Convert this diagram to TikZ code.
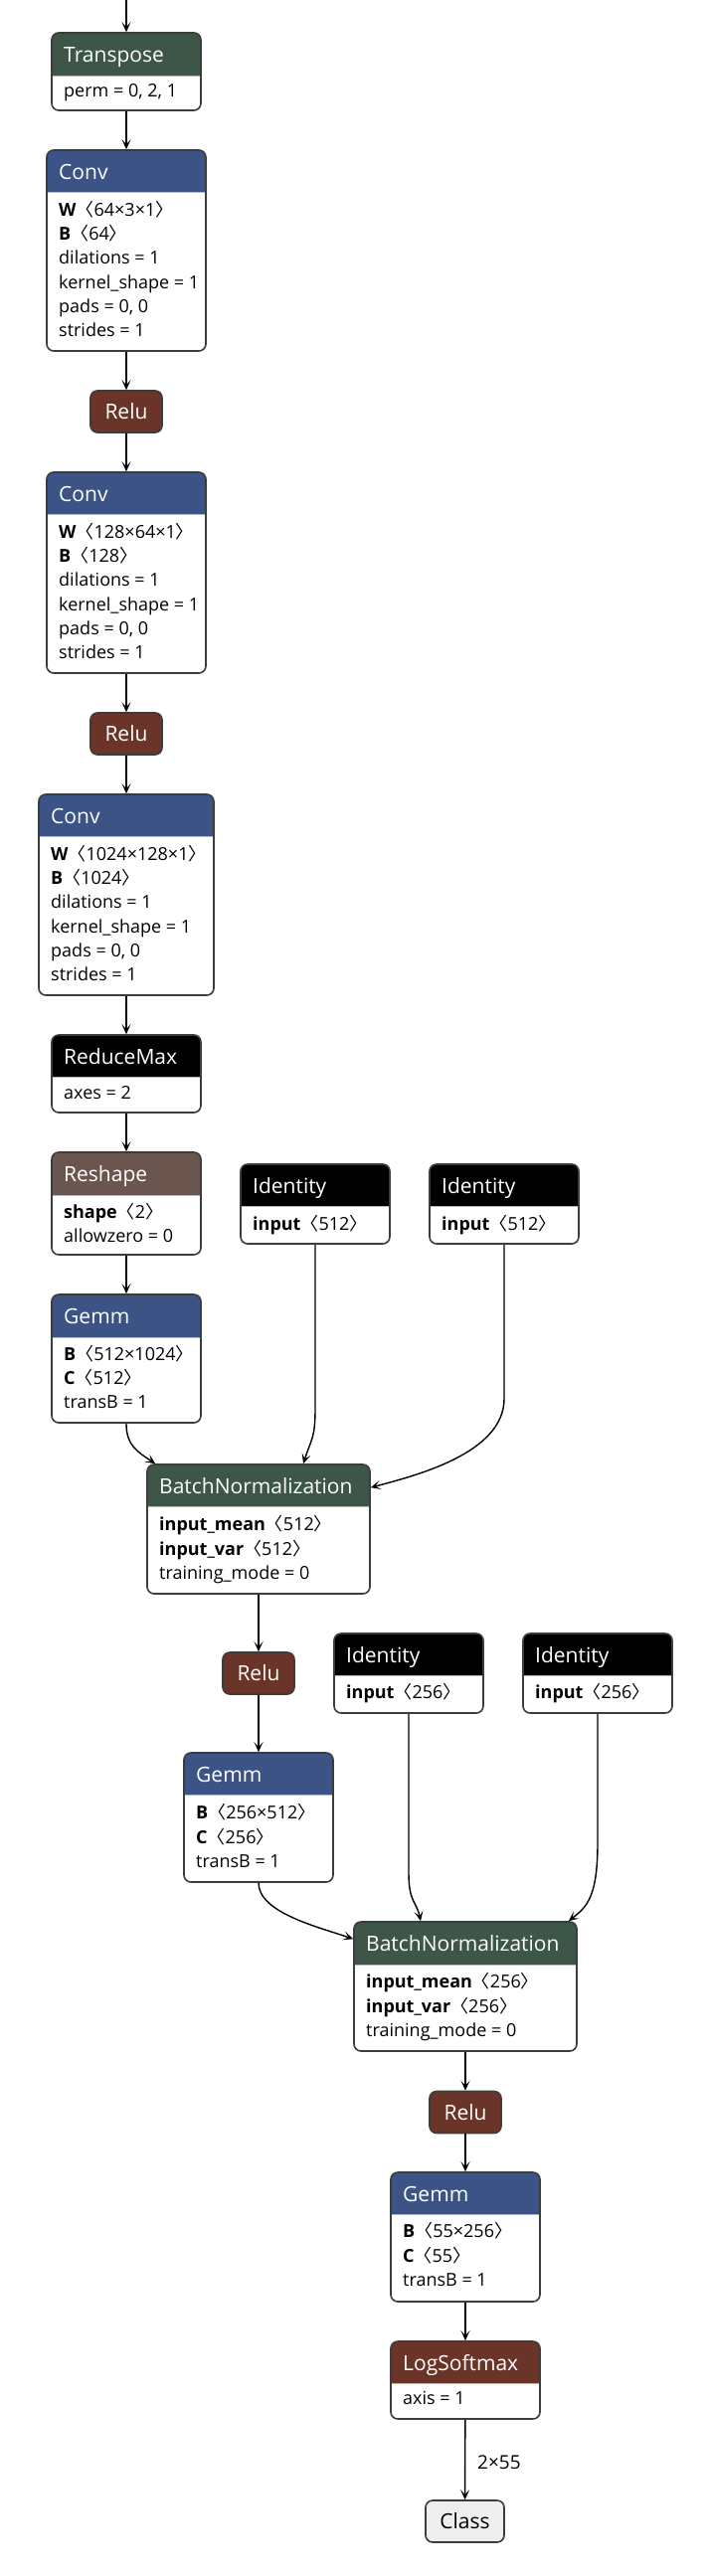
\documentclass[tikz,border=0pt]{standalone}
\usepackage{fontspec}
\setmainfont{Open Sans}
\newfontfamily\cjk{Noto Sans CJK SC}
\usetikzlibrary{arrows.meta,fit,calc}
\definecolor{cBlue}{HTML}{3B5485}
\definecolor{cGreen}{HTML}{3D5647}
\definecolor{cRelu}{HTML}{6B3428}
\definecolor{cShape}{HTML}{6B564F}
\definecolor{cBlack}{HTML}{000000}
\definecolor{cBorder}{HTML}{3C3C3C}
\definecolor{cClass}{HTML}{EEEEEE}
\newcommand\tshape[1]{{\cjk 〈}#1{\cjk 〉}}
\tikzset{
  arr/.style={-{Stealth[length=10pt,width=9pt,inset=5pt]}, line width=1.4pt, black},
  ttl/.style={anchor=base west, inner sep=0pt, text=white, font=\fontsize{21}{25}\selectfont},
  bdy/.style={anchor=base west, inner sep=0pt, text=black, font=\fontsize{18}{21}\selectfont},
  lbl/.style={anchor=base west, inner sep=0pt, text=black, font=\fontsize{19}{22}\selectfont},
  outline/.style={draw=cBorder, line width=1.6pt, rounded corners=7pt, inner sep=0pt},
  sepline/.style={draw=gray!55, line width=1pt},
  smallbox/.style={outline, fill=cRelu, text=white, minimum width=72pt, minimum height=42pt, font=\fontsize{21}{25}\selectfont},
  classbox/.style={outline, fill=cClass, text=black, minimum width=79pt, minimum height=42pt, font=\fontsize{21}{25}\selectfont},
}
% name, x1, y1, x2, header bottom, y2, header colour
\newcommand\opbox[7]{%
  \begin{scope}
    \clip[rounded corners=7pt] (#2,#3) rectangle (#4,#6);
    \fill[white] (#2,#3) rectangle (#4,#6);
    \fill[#7] (#2,#3) rectangle (#4,#5);
    \draw[sepline] (#2,#5) -- (#4,#5);
  \end{scope}
  \node[outline, fit={(#2,#3) (#4,#6)}] (#1) {};
}
\begin{document}
\begin{tikzpicture}[x=1pt,y=-1pt]
\useasboundingbox[fill=white] (0,0) rectangle (710,2591);

% Transpose
\opbox{transpose}{52}{33}{202}{76}{111}{cGreen}
\node[ttl] (transpose-t) at (64,62) {Transpose};
\node[bdy] (transpose-b1) at (64,97) {perm = 0, 2, 1};

% Conv 1
\opbox{conv1}{47}{151}{207}{193}{353}{cBlue}
\node[ttl] (conv1-t) at (59,180) {Conv};
\node[bdy] (conv1-b1) at (59,217) {\textbf{W}\tshape{64×3×1}};
\node[bdy] (conv1-b2) at (59,241) {\textbf{B}\tshape{64}};
\node[bdy] (conv1-b3) at (59,265) {dilations = 1};
\node[bdy] (conv1-b4) at (59,290) {kernel\_shape = 1};
\node[bdy] (conv1-b5) at (59,314) {pads = 0, 0};
\node[bdy] (conv1-b6) at (59,338) {strides = 1};

\node[smallbox] (relu1) at (127,414) {Relu};

% Conv 2
\opbox{conv2}{47}{475}{207}{517}{677}{cBlue}
\node[ttl] (conv2-t) at (59,504) {Conv};
\node[bdy] (conv2-b1) at (59,541) {\textbf{W}\tshape{128×64×1}};
\node[bdy] (conv2-b2) at (59,565) {\textbf{B}\tshape{128}};
\node[bdy] (conv2-b3) at (59,589) {dilations = 1};
\node[bdy] (conv2-b4) at (59,614) {kernel\_shape = 1};
\node[bdy] (conv2-b5) at (59,638) {pads = 0, 0};
\node[bdy] (conv2-b6) at (59,662) {strides = 1};

\node[smallbox] (relu2) at (127,738) {Relu};

% Conv 3
\opbox{conv3}{39}{799}{215}{841}{1001}{cBlue}
\node[ttl] (conv3-t) at (51,828) {Conv};
\node[bdy] (conv3-b1) at (51,865) {\textbf{W}\tshape{1024×128×1}};
\node[bdy] (conv3-b2) at (51,889) {\textbf{B}\tshape{1024}};
\node[bdy] (conv3-b3) at (51,913) {dilations = 1};
\node[bdy] (conv3-b4) at (51,938) {kernel\_shape = 1};
\node[bdy] (conv3-b5) at (51,962) {pads = 0, 0};
\node[bdy] (conv3-b6) at (51,986) {strides = 1};

% ReduceMax
\opbox{reducemax}{52}{1041}{202}{1083}{1119}{cBlack}
\node[ttl] (reducemax-t) at (64,1070) {ReduceMax};
\node[bdy] (reducemax-b1) at (64,1105) {axes = 2};

% Reshape
\opbox{reshape}{52}{1159}{202}{1202}{1262}{cShape}
\node[ttl] (reshape-t) at (64,1188) {Reshape};
\node[bdy] (reshape-b1) at (64,1225) {\textbf{shape}\tshape{2}};
\node[bdy] (reshape-b2) at (64,1249) {allowzero = 0};

% Identity 1 and 2
\opbox{id1}{242}{1171}{392}{1213}{1251}{cBlack}
\node[ttl] (id1-t) at (254,1200) {Identity};
\node[bdy] (id1-b1) at (254,1237) {\textbf{input}\tshape{512}};
\opbox{id2}{432}{1171}{582}{1213}{1251}{cBlack}
\node[ttl] (id2-t) at (444,1200) {Identity};
\node[bdy] (id2-b1) at (444,1237) {\textbf{input}\tshape{512}};

% Gemm 1
\opbox{gemm1}{52}{1302}{202}{1345}{1431}{cBlue}
\node[ttl] (gemm1-t) at (64,1331) {Gemm};
\node[bdy] (gemm1-b1) at (64,1368) {\textbf{B}\tshape{512×1024}};
\node[bdy] (gemm1-b2) at (64,1392) {\textbf{C}\tshape{512}};
\node[bdy] (gemm1-b3) at (64,1416) {transB = 1};

% BatchNormalization 1
\opbox{bn1}{148}{1473}{372}{1515}{1603}{cGreen}
\node[ttl] (bn1-t) at (160,1502) {BatchNormalization};
\node[bdy] (bn1-b1) at (160,1539) {\textbf{input\_mean}\tshape{512}};
\node[bdy] (bn1-b2) at (160,1564) {\textbf{input\_var}\tshape{512}};
\node[bdy] (bn1-b3) at (160,1588) {training\_mode = 0};

\node[smallbox] (relu3) at (260,1683) {Relu};

% Identity 3 and 4
\opbox{id3}{336}{1643}{486}{1685}{1723}{cBlack}
\node[ttl] (id3-t) at (348,1672) {Identity};
\node[bdy] (id3-b1) at (348,1708) {\textbf{input}\tshape{256}};
\opbox{id4}{526}{1643}{676}{1685}{1723}{cBlack}
\node[ttl] (id4-t) at (538,1672) {Identity};
\node[bdy] (id4-b1) at (538,1708) {\textbf{input}\tshape{256}};

% Gemm 2
\opbox{gemm2}{185}{1763}{335}{1805}{1893}{cBlue}
\node[ttl] (gemm2-t) at (197,1792) {Gemm};
\node[bdy] (gemm2-b1) at (197,1829) {\textbf{B}\tshape{256×512}};
\node[bdy] (gemm2-b2) at (197,1854) {\textbf{C}\tshape{256}};
\node[bdy] (gemm2-b3) at (197,1878) {transB = 1};

% BatchNormalization 2
\opbox{bn2}{356}{1933}{580}{1976}{2063}{cGreen}
\node[ttl] (bn2-t) at (368,1962) {BatchNormalization};
\node[bdy] (bn2-b1) at (368,1999) {\textbf{input\_mean}\tshape{256}};
\node[bdy] (bn2-b2) at (368,2024) {\textbf{input\_var}\tshape{256}};
\node[bdy] (bn2-b3) at (368,2048) {training\_mode = 0};

\node[smallbox] (relu4) at (468,2124.5) {Relu};

% Gemm 3
\opbox{gemm3}{393}{2185}{543}{2227}{2315}{cBlue}
\node[ttl] (gemm3-t) at (405,2214) {Gemm};
\node[bdy] (gemm3-b1) at (405,2250) {\textbf{B}\tshape{55×256}};
\node[bdy] (gemm3-b2) at (405,2275) {\textbf{C}\tshape{55}};
\node[bdy] (gemm3-b3) at (405,2299) {transB = 1};

% LogSoftmax
\opbox{logsoftmax}{393}{2355}{543}{2397}{2433}{cRelu}
\node[ttl] (logsoftmax-t) at (405,2384) {LogSoftmax};
\node[bdy] (logsoftmax-b1) at (405,2418) {axis = 1};

% Output
\node[classbox] (class) at (467.5,2536) {Class};

% Connectors
\coordinate (in) at (127,0);
\draw[arr] (in) -- (transpose);
\draw[arr] (transpose) -- (conv1);
\draw[arr] (conv1) -- (relu1);
\draw[arr] (relu1) -- (conv2);
\draw[arr] (conv2) -- (relu2);
\draw[arr] (relu2) -- (conv3);
\draw[arr] (conv3) -- (reducemax);
\draw[arr] (reducemax) -- (reshape);
\draw[arr] (reshape) -- (gemm1);
\draw[arr] (gemm1.south) .. controls +(0,22) and +(-18,-12) .. ([xshift=9pt]bn1.north west);
\draw[arr] (id1.south) -- ++(0,165) .. controls +(0,30) and +(8,-25) .. ([xshift=45pt]bn1.north);
\draw[arr] (id2.south) -- ++(0,155) .. controls +(0,55) and +(45,-12) .. ([yshift=-24pt]bn1.north east);
\draw[arr] (bn1) -- (relu3);
\draw[arr] (relu3) -- (gemm2);
\draw[arr] (gemm2.south) .. controls +(0,30) and +(-35,-12) .. ([yshift=-18pt]bn2.north west);
\draw[arr] (id3.south) -- ++(0,160) .. controls +(0,30) and +(-4,-20) .. ([xshift=-45pt]bn2.north);
\draw[arr] (id4.south) -- ++(0,130) .. controls +(0,55) and +(18,-14) .. ([xshift=-9pt]bn2.north east);
\draw[arr] (bn2) -- (relu4);
\draw[arr] (relu4) -- (gemm3);
\draw[arr] (gemm3) -- (logsoftmax);
\draw[arr] (logsoftmax) -- (class);
\node[lbl] (out-lbl) at (480,2483) {2×55};
\end{tikzpicture}
\end{document}
